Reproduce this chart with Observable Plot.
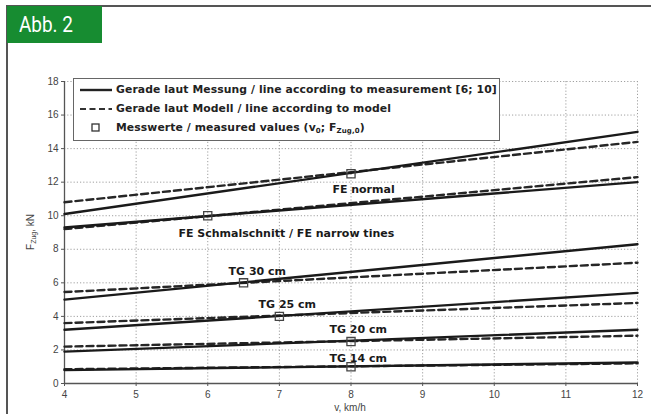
<!DOCTYPE html>
<html>
<head>
<meta charset="utf-8">
<script src="https://cdn.jsdelivr.net/npm/d3@7"></script>
<script src="https://cdn.jsdelivr.net/npm/@observablehq/plot@0.6"></script>
<style>
  html, body { margin: 0; padding: 0; background: #fff; }
  #wrap { position: relative; width: 651px; height: 414px; overflow: hidden; font-family: "Liberation Sans", Arial, sans-serif; }
  #frame { position: absolute; left: 6px; top: 5px; right: -5px; bottom: -5px; border-top: 2px solid #555; border-left: 2px solid #555; }
  #abb { position: absolute; left: 7px; top: 6px; width: 95px; height: 37px; background: #178c31; color: #fff; }
  #abb span { position: absolute; left: 12px; top: 0; font-family: "Roboto", "Liberation Sans", sans-serif; font-size: 22px; line-height: 37px; display: inline-block; transform: scaleX(0.86); transform-origin: left center; white-space: nowrap; }
  #chart { position: absolute; left: 0; top: 0; }
  #legend { position: absolute; left: 73px; top: 78px; width: 427px; height: 63px; box-sizing: border-box; border: 1.5px solid #666; background: #fff; }
  .lrow { position: absolute; left: 0; height: 18px; font-family: "DejaVu Sans", sans-serif; font-weight: bold; font-size: 10.8px; color: #222; line-height: 18px; white-space: nowrap; }
  .lrow svg { position: absolute; left: 6px; top: 0; }
  .lrow span { position: absolute; left: 42px; top: 0; letter-spacing: 0.1px; }
  sub { font-size: 7px; vertical-align: -2px; line-height: 0; }
  #ylab { position: absolute; left: 30px; top: 232px; transform: translate(-50%, -50%) rotate(-90deg); font-size: 10px; color: #444; white-space: nowrap; }
  #xlab { position: absolute; left: 350px; top: 407px; transform: translate(-50%, -50%); font-size: 10px; color: #444; white-space: nowrap; }
</style>
</head>
<body>
<div id="wrap">
  <div id="frame"></div>
  <div id="chart"></div>
  <div id="abb"><span>Abb. 2</span></div>
  <div id="legend">
    <div class="lrow" style="top:2px"><svg width="34" height="18"><line x1="0" x2="32" y1="9" y2="9" stroke="#222" stroke-width="2.4"/></svg><span>Gerade laut Messung / line according to measurement [6; 10]</span></div>
    <div class="lrow" style="top:21px"><svg width="34" height="18"><line x1="0" x2="32" y1="9" y2="9" stroke="#333" stroke-width="2.2" stroke-dasharray="6,3.5"/></svg><span>Gerade laut Modell / line according to model</span></div>
    <div class="lrow" style="top:40px"><svg width="34" height="18"><rect x="12" y="5" width="7" height="7" fill="#fff" stroke="#333" stroke-width="1.3"/></svg><span>Messwerte / measured values (v<sub>0</sub>; F<sub>Zug,0</sub>)</span></div>
  </div>
  <div id="ylab">F<sub>Zug</sub>, kN</div>
  <div id="xlab">v, km/h</div>
</div>
<script>
// ---- data ----
const xTicks = [4, 5, 6, 7, 8, 9, 10, 11, 12];
const yTicks = [0, 2, 4, 6, 8, 10, 12, 14, 16, 18];
const vRange = [4, 12];
const seriesNames = ["FE normal", "FE Schmalschnitt / FE narrow tines", "TG 30 cm", "TG 25 cm", "TG 20 cm", "TG 14 cm"];
const measStart  = [10.1, 9.3, 5.0, 3.2, 1.9, 0.8];
const measEnd    = [15.0, 12.0, 8.3, 5.4, 3.2, 1.25];
const modelStart = [10.8, 9.2, 5.45, 3.6, 2.2, 0.85];
const modelEnd   = [14.4, 12.3, 7.2, 4.8, 2.85, 1.2];
const markV = [8, 6, 6.5, 7, 8, 8];
const markF = [12.5, 10, 6, 4, 2.5, 1];
const labelV = [7.74, 5.59, 6.29, 6.71, 7.7, 7.7];
const labelF = [11.55, 8.93, 6.67, 4.7, 3.2, 1.5];

// ---- tables ----
const meas = [], model = [];
seriesNames.forEach((s, i) => {
  meas.push({s, v: vRange[0], F: measStart[i]}, {s, v: vRange[1], F: measEnd[i]});
  model.push({s, v: vRange[0], F: modelStart[i]}, {s, v: vRange[1], F: modelEnd[i]});
});
const marks = seriesNames.map((s, i) => ({s, v: markV[i], F: markF[i]}));
const labels = seriesNames.map((s, i) => ({s, v: labelV[i], F: labelF[i]}));

const chart = Plot.plot({
  width: 651,
  height: 414,
  marginLeft: 64,
  marginRight: 14,
  marginTop: 81,
  marginBottom: 31,
  x: {domain: [4, 12], label: null},
  y: {domain: [0, 18], label: null},
  style: {fontFamily: "'Liberation Sans', Arial, sans-serif", fontSize: "10px", color: "#444", background: "transparent"},
  marks: [
    Plot.gridX(xTicks, {stroke: "#888", strokeOpacity: 0.8, strokeDasharray: "1.2,2"}),
    Plot.gridY(yTicks, {stroke: "#888", strokeOpacity: 0.8, strokeDasharray: "1.2,2"}),
    Plot.ruleX([4], {stroke: "#555", strokeWidth: 1.3}),
    Plot.ruleY([0], {stroke: "#555", strokeWidth: 1.3}),
    Plot.line(model, {x: "v", y: "F", z: "s", stroke: "#262626", strokeWidth: 2.4, strokeDasharray: "7,4"}),
    Plot.line(meas, {x: "v", y: "F", z: "s", stroke: "#1a1a1a", strokeWidth: 2.4}),
    Plot.dot(marks, {x: "v", y: "F", symbol: "square", r: 4.6, fill: "none", stroke: "#444", strokeWidth: 1.3}),
    Plot.text(labels, {x: "v", y: "F", text: "s", textAnchor: "start", fontSize: 11, fontFamily: "'DejaVu Sans', sans-serif", fontWeight: "bold", fill: "#1a1a1a", letterSpacing: "-0.2px"}),
    Plot.axisX(xTicks, {tickSize: 3, tickPadding: 4, fontSize: 10, stroke: "#555"}),
    Plot.axisY(yTicks, {tickSize: 3, tickPadding: 3, fontSize: 10, stroke: "#555"})
  ]
});
document.getElementById("chart").appendChild(chart);
</script>
</body>
</html>
